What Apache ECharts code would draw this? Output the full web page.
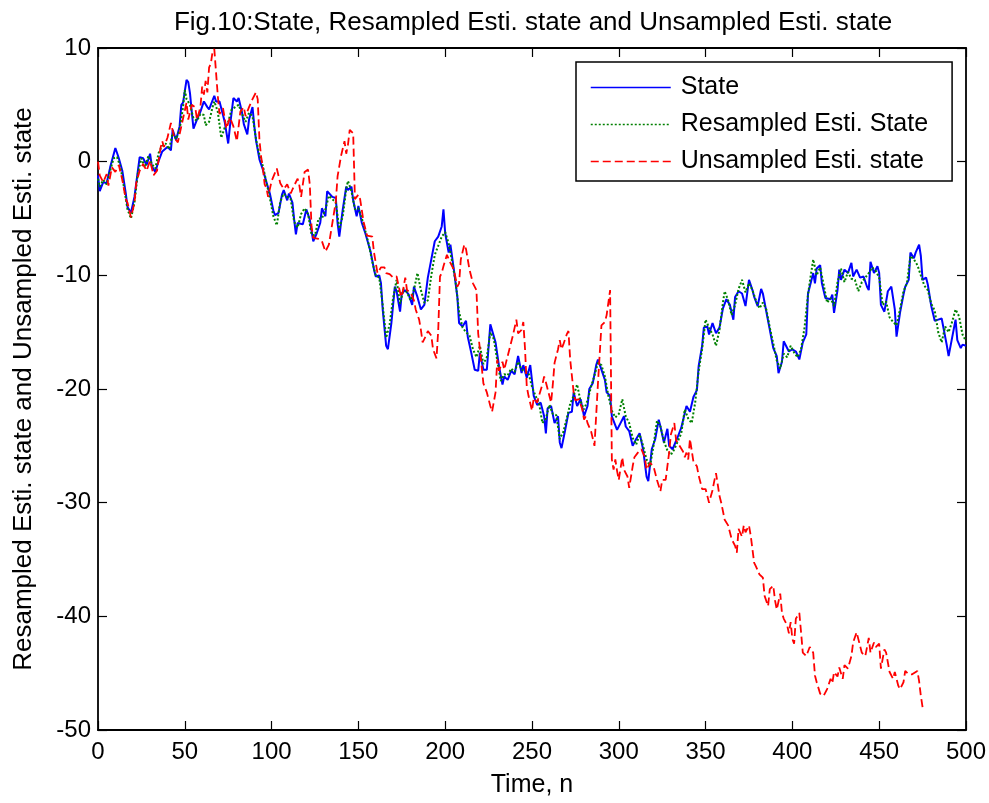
<!DOCTYPE html>
<html>
<head>
<meta charset="utf-8">
<title>State estimation</title>
<script src="https://cdn.jsdelivr.net/npm/echarts@6/dist/echarts.min.js"></script>
<style>
  html, body { margin: 0; padding: 0; background: #fff; }
  #chart { width: 989px; height: 803px; }
</style>
</head>
<body>
<div id="chart"></div>
<script>
// Time steps (n) and values for the true state
const stateTime = [0,1,3,5,7,10,12,14,16,17,19,21,24,26,28,30,31,33,35,37,40,42,43,45,47,48,49,51,52,53,54,55,57,59,61,63,64,67,68,70,72,73,75,76,78,80,81,83,84,86,87,89,90,91,93,95,97,99,101,102,104,106,107,109,110,112,113,114,115,118,120,122,124,126,128,129,131,132,135,137,138,139,141,143,144,146,147,149,150,152,154,157,159,160,162,163,164,166,167,169,171,172,174,175,177,179,181,182,184,186,188,190,192,194,196,198,199,200,202,203,205,207,208,210,212,213,215,217,219,220,222,224,226,229,231,233,234,236,238,240,242,244,245,247,249,251,253,255,257,258,259,261,263,265,266,267,269,271,273,274,276,278,280,282,283,285,287,288,290,292,293,295,296,299,301,303,304,306,308,310,312,314,316,317,319,321,323,324,326,328,329,331,332,334,336,339,341,343,345,346,348,349,351,352,354,356,358,360,362,364,366,367,369,371,373,375,377,378,380,382,383,385,387,389,391,392,394,395,398,400,402,404,405,406,408,409,410,412,413,414,416,417,419,422,423,424,426,427,428,430,432,434,435,437,439,441,443,444,445,447,449,450,451,453,455,457,459,460,462,464,465,467,468,470,471,473,474,475,477,478,480,482,484,486,487,489,490,492,494,495,497,498,500];
const stateValue = [-1.2,-2.6,-1.8,-1.9,-0.5,1.2,0.3,-0.8,-2.8,-4.0,-4.5,-3.1,0.4,0.3,-0.3,0.7,-0.4,-0.9,0.1,0.9,1.3,1.0,2.8,1.9,3.1,5.0,5.2,7.2,7.0,6.0,4.4,2.9,3.7,4.4,5.3,4.8,4.6,5.8,5.3,5.3,4.1,3.5,1.6,3.1,5.6,5.3,5.6,4.3,3.3,2.4,3.7,4.8,3.2,1.9,0.2,-0.7,-1.8,-2.8,-4.3,-4.7,-4.5,-2.9,-2.5,-3.4,-2.8,-3.6,-5.1,-6.4,-5.4,-5.5,-4.2,-5.1,-7.0,-6.3,-5.4,-4.1,-4.8,-2.6,-3.1,-3.2,-5.4,-6.6,-4.2,-2.2,-2.5,-2.2,-3.4,-4.8,-3.9,-5.4,-6.3,-7.9,-9.5,-10.1,-10.0,-10.7,-13.0,-16.2,-16.5,-14.2,-11.0,-11.4,-13.2,-11.6,-11.3,-11.7,-12.6,-11.0,-11.9,-13.0,-12.6,-10.2,-8.6,-7.0,-6.6,-5.7,-4.2,-6.3,-8.0,-7.3,-9.5,-11.9,-14.2,-14.5,-14.0,-15.4,-16.8,-18.3,-18.4,-16.8,-18.3,-18.3,-14.3,-15.9,-18.0,-19.6,-18.9,-19.2,-18.4,-18.7,-17.1,-18.6,-17.9,-19.0,-17.9,-20.6,-21.4,-21.2,-22.4,-23.9,-21.7,-21.5,-23.0,-22.4,-24.7,-25.2,-23.7,-22.1,-22.0,-20.3,-21.5,-20.9,-22.4,-21.5,-20.0,-19.5,-17.9,-17.4,-18.3,-19.2,-20.3,-20.6,-22.4,-23.6,-23.0,-22.4,-23.3,-23.7,-25.0,-24.4,-23.9,-25.3,-27.7,-28.1,-25.3,-24.4,-22.7,-23.3,-24.7,-23.5,-25.0,-25.3,-25.2,-24.2,-23.4,-21.5,-22.0,-20.7,-20.1,-18.0,-16.2,-14.6,-14.5,-15.2,-14.2,-15.1,-14.6,-12.9,-12.1,-12.6,-13.9,-11.9,-11.4,-11.6,-12.7,-10.4,-11.3,-11.9,-12.7,-11.2,-11.6,-13.2,-14.8,-16.4,-17.1,-18.6,-17.6,-15.8,-16.7,-16.5,-16.7,-17.4,-17.5,-15.9,-15.2,-11.6,-11.0,-9.8,-10.7,-9.4,-9.1,-10.7,-12.0,-12.1,-11.7,-13.3,-11.3,-9.5,-10.4,-9.5,-9.8,-8.9,-10.1,-9.5,-10.2,-10.1,-11.0,-11.3,-8.8,-9.8,-9.2,-9.8,-12.6,-13.2,-11.4,-11.0,-13.0,-15.4,-13.3,-11.7,-11.0,-10.4,-8.0,-8.5,-8.0,-7.3,-8.3,-10.4,-10.2,-10.8,-12.7,-14.0,-13.9,-13.8,-13.9,-16.2,-17.1,-15.5,-13.9,-15.7,-16.4,-16.1,-16.2];

// Estimate after resampling
const resampledTime = [0,1,3,5,7,9,11,13,15,17,19,21,23,25,27,29,31,33,35,37,39,41,43,45,47,49,50,51,53,55,57,59,61,62,64,66,67,69,71,73,75,77,79,81,83,85,87,89,91,93,95,97,99,101,103,105,107,109,111,113,115,117,119,121,123,125,127,129,131,133,135,137,139,141,143,144,146,148,150,152,154,156,158,160,162,164,166,168,170,172,174,176,178,180,182,184,186,188,190,192,194,196,198,200,202,204,206,208,210,212,214,216,218,220,222,224,226,228,230,232,234,236,238,240,242,244,246,248,250,252,254,256,258,260,262,264,266,268,270,272,274,276,278,280,282,284,286,288,290,292,294,296,298,300,302,304,306,308,310,312,314,316,318,320,322,324,326,328,330,332,334,336,338,340,342,344,346,348,350,352,354,356,358,360,361,363,365,367,369,371,373,375,377,379,381,383,385,387,389,391,393,395,397,399,401,403,405,407,409,410,412,414,416,418,420,422,424,426,428,430,432,434,436,438,440,442,444,446,448,450,452,454,456,458,460,462,464,466,468,470,472,474,476,478,480,482,484,486,488,490,492,494,496,498,500];
const resampledValue = [-1.5,-2.2,-1.6,-2.0,-0.8,0.3,0.4,-0.5,-2.3,-4.2,-5.0,-3.6,-1.0,0.3,-0.5,0.5,-0.2,-0.6,0.8,1.4,1.6,1.1,2.5,2.0,2.8,4.8,6.3,5.5,5.0,3.8,3.6,4.2,4.1,3.2,3.5,4.8,5.3,4.4,2.1,3.0,3.5,4.6,4.8,5.0,4.2,3.5,4.3,4.0,2.0,0.6,-0.4,-1.8,-3.2,-4.8,-5.6,-3.5,-2.8,-3.1,-3.3,-5.3,-5.8,-4.6,-4.1,-4.6,-6.4,-6.5,-5.0,-5.0,-4.2,-3.0,-3.3,-3.6,-5.9,-4.8,-2.4,-1.7,-2.6,-4.2,-4.1,-5.0,-6.1,-7.3,-8.8,-10.0,-10.2,-12.6,-15.5,-14.3,-12.0,-10.4,-12.5,-11.2,-11.5,-12.2,-11.3,-9.8,-11.3,-12.4,-12.2,-10.0,-8.2,-7.4,-6.6,-6.2,-7.2,-8.8,-10.6,-13.2,-14.6,-15.0,-15.3,-16.5,-17.2,-16.2,-17.8,-17.2,-15.0,-15.6,-17.5,-19.3,-18.7,-18.8,-18.2,-18.5,-17.6,-18.3,-18.4,-18.6,-19.8,-20.6,-21.2,-23.0,-22.6,-21.4,-22.2,-22.3,-24.4,-23.8,-22.6,-21.3,-20.6,-19.6,-21.1,-21.8,-21.0,-19.8,-18.8,-17.7,-17.9,-18.9,-20.6,-21.9,-22.5,-22.2,-20.9,-22.4,-23.0,-24.3,-24.9,-24.0,-25.0,-26.2,-26.8,-25.0,-22.8,-23.3,-24.6,-25.4,-25.8,-25.3,-24.6,-23.9,-21.8,-22.6,-23.0,-21.2,-18.4,-16.5,-13.9,-14.6,-15.2,-16.2,-14.8,-12.4,-11.4,-12.2,-13.5,-12.6,-11.2,-10.4,-11.5,-10.7,-11.3,-12.2,-12.9,-12.4,-13.0,-14.6,-16.0,-17.5,-18.2,-16.9,-17.2,-16.2,-16.8,-17.2,-16.5,-14.6,-11.7,-10.6,-8.6,-10.0,-9.3,-10.8,-12.4,-12.0,-12.7,-10.6,-9.4,-10.6,-9.7,-10.3,-10.4,-11.4,-10.6,-10.2,-9.8,-9.3,-9.6,-10.2,-12.6,-12.3,-13.7,-14.1,-14.4,-13.0,-11.4,-10.7,-8.3,-8.6,-9.1,-10.0,-10.9,-11.3,-12.5,-13.1,-15.0,-15.9,-14.5,-15.0,-14.1,-13.0,-13.6,-15.2,-15.8];

// Estimate without resampling (ends at n = 475)
const unsampledTime = [0,1,3,5,6,8,10,12,14,16,17,19,21,22,24,26,28,30,32,34,36,37,38,40,42,44,46,47,49,51,52,54,56,57,59,60,61,62,63,64,65,66,67,69,70,72,74,76,78,80,82,84,85,87,89,91,92,93,94,95,96,97,98,100,103,105,107,109,111,113,115,116,117,119,121,122,123,124,127,129,131,133,135,137,138,140,142,143,144,145,147,148,150,151,153,155,158,159,161,163,165,166,168,170,172,174,175,177,178,180,182,183,185,186,187,189,190,192,193,195,196,197,198,199,201,203,205,207,208,209,211,212,214,216,218,219,220,222,224,225,226,227,229,230,231,233,234,235,237,239,241,242,244,245,246,247,248,250,251,253,254,256,257,258,260,261,262,263,265,266,267,268,270,271,272,274,275,277,279,280,281,282,284,285,286,288,290,292,293,294,295,296,297,298,299,300,302,303,305,306,308,309,311,313,315,316,318,320,322,324,325,327,329,330,332,333,335,337,338,339,340,341,343,345,346,348,350,352,354,355,356,358,359,361,363,365,367,368,369,371,372,373,375,376,378,379,381,383,384,386,387,389,390,391,393,394,395,397,398,399,400,401,402,404,405,406,408,410,412,413,414,416,418,420,422,423,424,426,427,429,430,432,434,435,437,438,440,442,444,445,447,448,450,451,453,454,456,458,459,461,462,464,465,467,469,472,473,474,475];
const unsampledValue = [0.0,-1.2,-1.8,-1.1,-2.1,-0.5,-0.9,-0.3,-1.6,-3.3,-3.6,-4.9,-3.6,-1.9,-0.8,-0.2,-0.8,0.1,-1.2,-0.8,1.2,1.8,1.3,2.1,3.4,2.1,1.7,2.4,3.8,5.2,3.7,5.0,4.8,3.7,4.8,6.6,5.9,7.1,6.1,8.3,8.6,9.7,9.9,5.8,4.2,4.7,2.9,3.9,3.1,1.8,4.4,4.8,4.0,4.8,5.5,6.1,5.5,1.9,0.4,-0.6,-2.0,-2.3,-3.1,-1.7,-0.6,-1.9,-2.4,-2.0,-2.8,-2.1,-1.5,-2.1,-3.1,-0.9,-0.7,-2.0,-5.7,-6.7,-6.8,-7.0,-7.9,-7.3,-5.4,-3.5,-1.3,0.5,1.8,0.7,1.5,2.8,2.5,-3.3,-2.9,-3.3,-5.3,-6.5,-6.6,-8.0,-9.8,-9.3,-9.3,-9.8,-9.9,-10.2,-10.1,-11.5,-11.9,-10.2,-11.3,-11.5,-12.2,-13.0,-13.9,-14.8,-15.9,-15.3,-14.9,-15.3,-16.5,-17.3,-14.8,-10.1,-9.8,-9.2,-8.2,-8.9,-9.5,-11.0,-10.7,-8.6,-7.3,-7.7,-9.5,-10.7,-11.3,-15.1,-16.5,-19.5,-20.3,-20.9,-21.5,-22.0,-20.3,-17.4,-18.4,-17.6,-18.3,-17.7,-16.5,-15.3,-13.9,-15.1,-14.8,-14.1,-16.5,-19.8,-20.6,-21.9,-20.8,-21.2,-20.6,-19.6,-18.9,-19.4,-20.6,-21.2,-19.6,-17.7,-16.5,-15.7,-16.5,-16.1,-15.2,-14.9,-17.4,-20.3,-21.0,-20.9,-21.8,-22.7,-22.4,-23.0,-23.7,-23.6,-25.0,-19.5,-14.4,-14.1,-13.5,-12.4,-11.3,-26.2,-27.1,-26.2,-27.2,-28.0,-26.0,-27.1,-27.7,-28.7,-26.8,-26.0,-25.6,-25.3,-26.0,-27.1,-26.5,-26.8,-28.0,-29.0,-28.0,-28.0,-25.6,-24.0,-23.0,-24.5,-25.0,-25.5,-26.0,-25.6,-26.2,-24.4,-26.4,-26.8,-27.6,-28.8,-28.8,-30.0,-28.9,-28.1,-27.4,-29.4,-30.0,-31.5,-32.0,-33.2,-33.8,-34.4,-32.3,-33.0,-32.0,-32.6,-32.0,-32.9,-35.3,-35.6,-36.3,-36.6,-38.2,-39.1,-37.6,-37.3,-38.6,-39.4,-38.0,-39.7,-40.2,-40.8,-41.5,-40.5,-42.0,-42.4,-40.2,-39.7,-41.4,-43.2,-43.5,-42.7,-43.2,-45.2,-45.8,-46.8,-47.0,-46.4,-45.5,-45.9,-44.9,-45.3,-44.5,-45.5,-44.3,-44.6,-43.5,-42.3,-41.4,-41.5,-43.2,-43.5,-41.9,-43.2,-42.3,-42.7,-42.4,-44.6,-42.9,-43.2,-44.9,-45.5,-44.9,-46.1,-46.4,-45.8,-44.8,-45.1,-45.1,-44.8,-45.7,-47.0,-48.0];

// Axis ticks
const xTicks = [0, 50, 100, 150, 200, 250, 300, 350, 400, 450, 500];
const yTicks = [-50, -40, -30, -20, -10, 0, 10];

const seriesNames = ['State', 'Resampled Esti. State', 'Unsampled Esti. state'];

const zip = (t, v) => t.map((n, i) => [n, v[i]]);

const FONT = 'Liberation Sans, Arial, Helvetica, sans-serif';

const tickStyle = { show: true, inside: true, length: 9, lineStyle: { color: '#000', width: 1.2 } };
const lineAxis = { show: true, onZero: false, lineStyle: { color: '#000', width: 1.8 } };

const blueLine = { color: '#0000ff', width: 2, type: 'solid' };
const greenLine = { color: '#008000', width: 2, type: [2, 2] };
const redLine = { color: '#ff0000', width: 1.8, type: [8, 4] };

// legend keys show only the line sample, no marker
const hiddenMarker = { color: 'rgba(0,0,0,0)', borderWidth: 0, opacity: 0 };

const chart = echarts.init(document.getElementById('chart'), null, { renderer: 'canvas' });

const xMin = xTicks[0], xMax = xTicks[xTicks.length - 1], xStep = xTicks[1] - xTicks[0];
const yMin = yTicks[0], yMax = yTicks[yTicks.length - 1], yStep = yTicks[1] - yTicks[0];

chart.setOption({
  animation: false,
  backgroundColor: '#fff',
  textStyle: { fontFamily: FONT },
  title: {
    text: 'Fig.10:State, Resampled Esti. state and Unsampled Esti. state',
    left: 528,
    textAlign: 'center',
    top: 5,
    textStyle: { fontFamily: FONT, fontSize: 26, fontWeight: 'normal', color: '#000' }
  },
  legend: {
    orient: 'vertical',
    left: 576,
    top: 62,
    padding: [13, 24, 7, 14],
    itemGap: 12,
    itemWidth: 80,
    itemHeight: 14,
    backgroundColor: '#fff',
    borderColor: '#000',
    borderWidth: 1.5,
    textStyle: { fontFamily: FONT, fontSize: 25, lineHeight: 25, color: '#000', padding: [0, 0, 0, 5] },
    data: [
      { name: seriesNames[0], itemStyle: hiddenMarker, lineStyle: Object.assign({}, blueLine, { width: 1.5 }) },
      { name: seriesNames[1], itemStyle: hiddenMarker, lineStyle: Object.assign({}, greenLine, { width: 1.5 }) },
      { name: seriesNames[2], itemStyle: hiddenMarker, lineStyle: Object.assign({}, redLine, { width: 1.5 }) }
    ]
  },
  grid: { left: 98, right: 23, top: 48, bottom: 72, containLabel: false },
  xAxis: [
    {
      type: 'value', min: xMin, max: xMax, interval: xStep,
      name: 'Time, n', nameLocation: 'middle', nameGap: 43,
      nameTextStyle: { fontFamily: FONT, fontSize: 25, color: '#000' },
      axisLine: lineAxis, axisTick: tickStyle,
      axisLabel: { color: '#000', fontSize: 24, fontFamily: FONT, margin: 10 },
      splitLine: { show: false }
    },
    {
      type: 'value', position: 'top', min: xMin, max: xMax, interval: xStep,
      axisLine: lineAxis, axisTick: tickStyle, axisLabel: { show: false }, splitLine: { show: false }
    }
  ],
  yAxis: [
    {
      type: 'value', min: yMin, max: yMax, interval: yStep,
      name: 'Resampled Esti. state and Unsampled Esti. state', nameLocation: 'middle', nameGap: 61,
      nameTextStyle: { fontFamily: FONT, fontSize: 26, color: '#000' },
      axisLine: lineAxis, axisTick: tickStyle,
      axisLabel: { color: '#000', fontSize: 24, fontFamily: FONT, margin: 7 },
      splitLine: { show: false }
    },
    {
      type: 'value', position: 'right', min: yMin, max: yMax, interval: yStep,
      axisLine: lineAxis, axisTick: tickStyle, axisLabel: { show: false }, splitLine: { show: false }
    }
  ],
  series: [
    {
      name: seriesNames[0], type: 'line', data: zip(stateTime, stateValue),
      showSymbol: false, symbol: 'none', z: 2,
      lineStyle: blueLine, itemStyle: { color: blueLine.color }
    },
    {
      name: seriesNames[1], type: 'line', data: zip(resampledTime, resampledValue),
      showSymbol: false, symbol: 'none', z: 3,
      lineStyle: greenLine, itemStyle: { color: greenLine.color }
    },
    {
      name: seriesNames[2], type: 'line', data: zip(unsampledTime, unsampledValue),
      showSymbol: false, symbol: 'none', z: 4,
      lineStyle: redLine, itemStyle: { color: redLine.color }
    }
  ]
});
</script>
</body>
</html>
